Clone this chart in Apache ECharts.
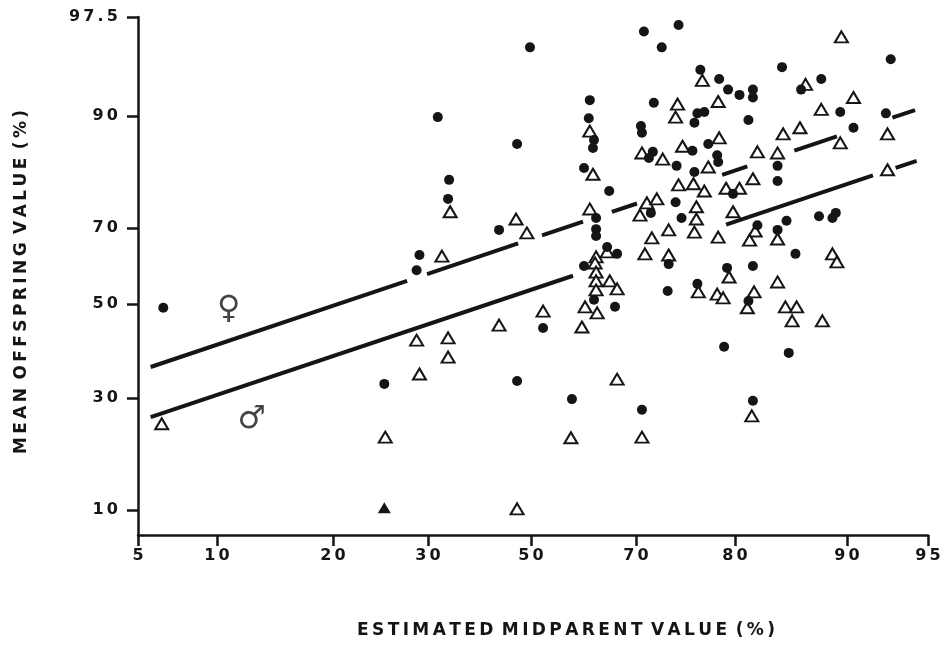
<!DOCTYPE html>
<html>
<head>
<meta charset="utf-8">
<script src="https://cdn.jsdelivr.net/npm/echarts@6/dist/echarts.min.js"></script>
<style>
html, body { margin: 0; background: #fff; }
#main { width: 946px; height: 646px; }
</style>
</head>
<body>
<div id="main"></div>
<script>
// tick values (percent) and where each one sits along the hand-drawn axes (px from the origin)
var xTicks = [5, 10, 20, 30, 50, 70, 80, 90, 95];
var xStops = [0, 79, 195, 290, 393, 498, 597, 709, 790];
var yTicks = [10, 30, 50, 70, 90, 97.5];
var yStops = [25, 137, 231, 307, 419, 518];

// daughters (filled dots): [midparent %, offspring %]
var daughters = [
  [49.8,95.2],[31.9,89.8],[47.3,85.0],[34.1,78.6],[33.9,75.2],[43.8,69.5],[29.1,62.9],[28.8,58.9],[6.6,49.2],[25.4,33.0],[47.3,33.6],
  [70.8,96.4],[74.3,96.9],[72.6,95.2],[92.7,94.3],[84.2,93.7],[76.5,93.5],[78.4,92.8],[79.3,92.0],[80.4,91.6],[81.6,92.0],[81.6,91.4],
  [87.7,92.8],[85.9,92.0],[89.4,90.3],[90.4,87.9],[92.4,90.2],[61.2,91.2],[61.0,89.6],[62.0,85.7],[61.8,84.3],[71.8,91.0],[76.9,90.3],
  [76.2,90.2],[75.9,88.8],[81.2,89.3],[70.5,88.2],[70.6,87.0],[75.7,83.8],[77.3,85.0],[71.7,83.6],[71.3,82.5],[78.2,83.0],[78.3,81.8],
  [83.8,81.1],[83.8,78.4],[60.1,80.7],[74.1,81.1],[75.9,80.0],[79.8,76.1],[64.9,76.6],[62.4,71.8],[62.4,69.7],[62.4,67.9],[71.5,72.7],
  [74.0,74.6],[74.6,71.8],[82.0,70.5],[84.6,71.3],[83.8,69.5],[87.5,72.1],[89.0,72.7],[88.7,71.8],[64.5,65.0],[66.4,63.2],[60.1,60.0],
  [73.3,60.5],[79.2,59.5],[81.6,60.0],[85.4,63.2],[73.2,53.4],[76.2,55.3],[62.0,51.1],[66.0,49.4],[52.3,44.9],[81.2,50.8],[78.9,40.9],
  [84.8,39.6],[57.8,29.8],[70.6,27.9],[81.6,29.5]
];

// sons (open triangles)
var sons = [
  [34.3,72.9],[47.1,71.6],[49.2,68.7],[32.7,62.6],[6.5,25.4],[28.8,42.3],[33.9,42.8],[33.9,38.7],[43.8,45.5],[29.1,35.1],[25.5,23.0],[47.3,10.2],
  [89.5,96.0],[76.7,92.7],[86.3,92.4],[90.4,91.4],[87.7,90.5],[92.5,86.8],[89.4,85.2],[92.5,80.4],[61.2,87.3],[74.2,90.9],[74.0,89.8],
  [78.3,91.1],[78.4,86.1],[74.7,84.6],[70.6,83.4],[72.7,82.3],[84.3,86.8],[85.8,87.9],[82.0,83.6],[83.8,83.4],[61.8,79.6],[77.3,80.9],
  [74.3,77.7],[75.8,77.9],[76.9,76.6],[79.1,77.1],[80.4,77.1],[81.6,78.8],[61.2,73.4],[71.1,74.5],[72.1,75.2],[70.4,72.3],[76.1,73.8],
  [76.1,71.6],[79.8,72.9],[73.3,69.5],[71.6,67.4],[75.9,68.9],[78.3,67.6],[81.8,69.2],[81.3,66.8],[83.8,67.1],[64.5,63.7],[62.4,62.4],
  [70.9,63.2],[73.3,62.9],[88.7,63.2],[89.1,61.1],[62.2,60.8],[62.4,58.4],[62.4,56.1],[65.0,56.1],[66.4,54.0],[62.4,53.7],[60.3,49.4],
  [62.6,48.1],[52.3,48.5],[59.7,45.1],[79.4,57.1],[76.3,53.2],[78.2,52.6],[78.8,51.6],[81.7,53.2],[81.1,49.2],[83.8,55.8],[84.5,49.4],
  [85.5,49.4],[85.1,46.4],[87.8,46.4],[66.4,34.0],[81.5,26.8],[57.6,22.9],[70.6,23.0]
];

// filled triangle
var both = [[25.4,10.4]];

// regression lines [x0, y0, x1, y1] and the stretches of x that are drawn
var femaleLine = [5.8, 36.6, 94.2, 90.45];
var femaleParts = [[5.8,27.8],[29.9,47.5],[52.1,59.9],[65.4,70.1],[78.7,81.1],[85.3,89.1],[92.8,94.2]];
var maleLine = [5.8, 26.6, 94.3, 82.0];
var maleParts = [[5.8,58.0],[79.1,91.6],[93.0,94.3]];

// sex symbols next to the lines
var signs = [['\u2640', 11.0, 48.7], ['\u2642', 13.0, 26.1]];

function scale(v, ticks, stops) {
  var i = 1;
  while (i < ticks.length - 1 && v > ticks[i]) i++;
  var t = (v - ticks[i - 1]) / (ticks[i] - ticks[i - 1]);
  return stops[i - 1] + t * (stops[i] - stops[i - 1]);
}
function sx(v) { return scale(v, xTicks, xStops); }
function sy(v) { return scale(v, yTicks, yStops); }
function pt(d) { return [sx(d[0]), sy(d[1])]; }
function spaced(s) { return String(s).split('').join('\u2009'); }
function title(words) { return words.map(spaced).join('\u2002'); }

function lineSegs(line, parts) {
  var X0 = sx(line[0]), Y0 = sy(line[1]), X1 = sx(line[2]), Y1 = sy(line[3]);
  return parts.map(function (p) {
    var a = sx(p[0]), b = sx(p[1]);
    return { coords: [[a, Y0 + (a - X0) / (X1 - X0) * (Y1 - Y0)], [b, Y0 + (b - X0) / (X1 - X0) * (Y1 - Y0)]] };
  });
}

var ink = '#151515';
var font = '"DejaVu Sans", sans-serif';

var chart = echarts.init(document.getElementById('main'));
chart.setOption({
  animation: false,
  backgroundColor: '#fff',
  grid: { left: 138, right: 18, top: 17, bottom: 111 },
  xAxis: {
    type: 'value', min: 0, max: 790,
    splitLine: { show: false },
    axisLine: { lineStyle: { color: ink, width: 2.5 } },
    axisTick: { customValues: xStops, length: 11, lineStyle: { color: ink, width: 2.5 } },
    axisLabel: {
      customValues: xStops, margin: 13, color: ink, fontSize: 16, fontWeight: 'bold', fontFamily: font,
      formatter: function (v) { var i = xStops.indexOf(v); return i < 0 ? '' : spaced(xTicks[i]); }
    }
  },
  yAxis: {
    type: 'value', min: 0, max: 518,
    splitLine: { show: false },
    axisLine: { lineStyle: { color: ink, width: 2.5 } },
    axisTick: { customValues: yStops, length: 11, lineStyle: { color: ink, width: 2.5 } },
    axisLabel: {
      customValues: yStops, margin: 20, color: ink, fontSize: 16, fontWeight: 'bold', fontFamily: font,
      formatter: function (v) { var i = yStops.indexOf(v); return i < 0 ? '' : spaced(yTicks[i]); }
    }
  },
  graphic: [
    { type: 'text', x: 566, y: 631, style: { text: title(['ESTIMATED', 'MIDPARENT', 'VALUE', '(%)']),
      font: 'bold 17px ' + font, fill: ink, textAlign: 'center', textVerticalAlign: 'middle', align: 'center', verticalAlign: 'middle' } },
    { type: 'text', x: 22, y: 282, rotation: Math.PI / 2, style: { text: title(['MEAN', 'OFFSPRING', 'VALUE', '(%)']),
      font: 'bold 17px ' + font, fill: ink, textAlign: 'center', textVerticalAlign: 'middle', align: 'center', verticalAlign: 'middle' } }
  ],
  series: [
    { type: 'lines', coordinateSystem: 'cartesian2d', silent: true, z: 1,
      lineStyle: { color: ink, width: 4, opacity: 1 }, data: lineSegs(femaleLine, femaleParts) },
    { type: 'lines', coordinateSystem: 'cartesian2d', silent: true, z: 1,
      lineStyle: { color: ink, width: 4, opacity: 1 }, data: lineSegs(maleLine, maleParts) },
    { name: 'sons', type: 'scatter', z: 2, symbol: 'triangle', symbolSize: [13, 11],
      itemStyle: { color: '#fff', borderColor: ink, borderWidth: 2, opacity: 1 }, data: sons.map(pt) },
    { name: 'daughters', type: 'scatter', z: 3, symbol: 'circle', symbolSize: 10,
      itemStyle: { color: ink, opacity: 1 }, data: daughters.map(pt) },
    { name: 'both', type: 'scatter', z: 3, symbol: 'triangle', symbolSize: [13, 11],
      itemStyle: { color: ink, opacity: 1 }, data: both.map(pt) },
    { type: 'scatter', z: 4, symbolSize: 0, silent: true,
      label: { show: true, position: 'inside', color: ink, fontSize: 32, fontWeight: 'bold', fontFamily: font,
        formatter: function (p) { return p.data[2]; } },
      data: signs.map(function (s) { return [sx(s[1]), sy(s[2]), s[0]]; }) }
  ]
});
</script>
</body>
</html>
